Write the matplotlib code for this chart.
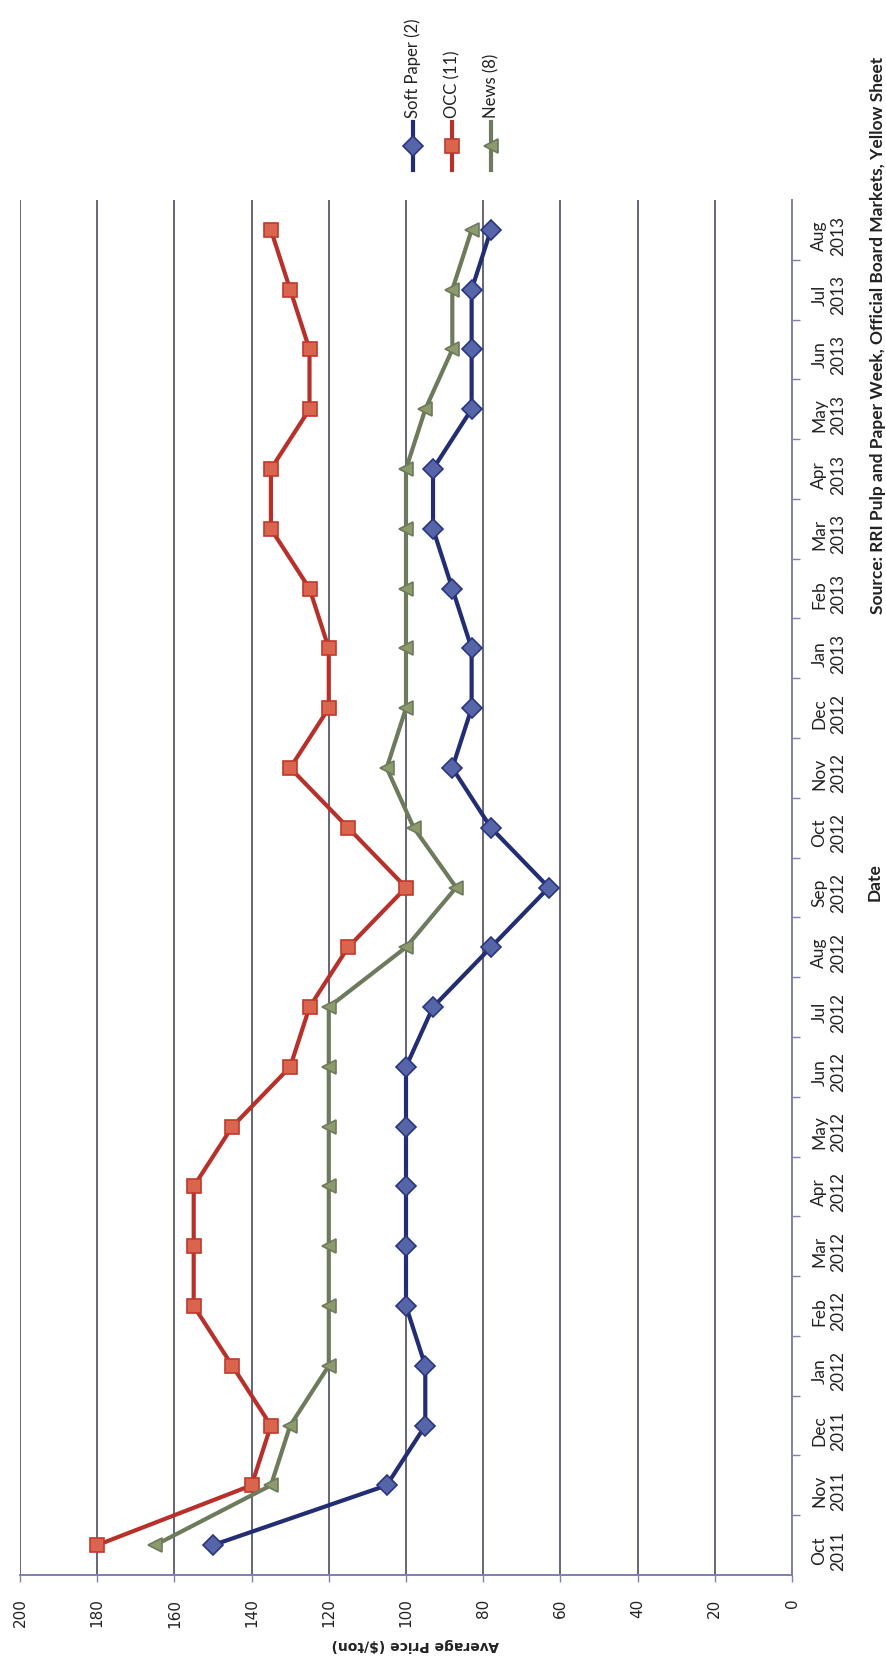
import numpy as np
import matplotlib
matplotlib.use("Agg")
import matplotlib.pyplot as plt
from matplotlib.lines import Line2D

# chart is drawn turned a quarter turn, as in the scanned page
months = ["Oct\n2011", "Nov\n2011", "Dec\n2011", "Jan\n2012", "Feb\n2012", "Mar\n2012",
          "Apr\n2012", "May\n2012", "Jun\n2012", "Jul\n2012", "Aug\n2012", "Sep\n2012",
          "Oct\n2012", "Nov\n2012", "Dec\n2012", "Jan\n2013", "Feb\n2013", "Mar\n2013",
          "Apr\n2013", "May\n2013", "Jun\n2013", "Jul\n2013", "Aug\n2013"]
soft_paper = [150, 105, 95, 95, 100, 100, 100, 100, 100, 93, 78, 63,
              78, 88, 83, 83, 88, 93, 93, 83, 83, 83, 78]
occ = [180, 140, 135, 145, 155, 155, 155, 145, 130, 125, 115, 100,
       115, 130, 120, 120, 125, 135, 135, 125, 125, 130, 135]
news = [165, 135, 130, 120, 120, 120, 120, 120, 120, 120, 100, 87,
        98, 105, 100, 100, 100, 100, 100, 95, 88, 88, 83]
price_ticks = [0, 20, 40, 60, 80, 100, 120, 140, 160, 180, 200]

series = [
    ("Soft Paper (2)", soft_paper, "#222d74", "D", "#5665a8", "#2a3580"),
    ("OCC (11)", occ, "#b8302a", "s", "#d9654f", "#c03a2c"),
    ("News (8)", news, "#6d7a5c", "<", "#8d9b6c", "#6d7a5c"),
]

W, H = 886, 1661
fig = plt.figure(figsize=(W / 100, H / 100), dpi=100)
left, right, top, bottom = 20, 792, 200, 1575
ax = fig.add_axes([left / W, 1 - bottom / H, (right - left) / W, (bottom - top) / H])

pos = np.arange(len(months))
for name, vals, lc, mk, mf, me in series:
    ax.plot(vals, pos, color=lc, lw=3, marker=mk, ms=10,
            mfc=mf, mec=me, mew=1.2, zorder=3)

ax.set_xlim(200, 0)
ax.set_ylim(-0.5, len(months) - 0.5)

ax.set_xticks(price_ticks)
ax.set_xticklabels([str(v) for v in price_ticks], rotation=90, fontsize=11,
                   family="DejaVu Sans", color="#222222")
ax.tick_params(axis="x", direction="out", length=5, width=1, color="#7f7fb0", pad=12)
ax.grid(axis="x", color="#3c3c55", lw=1.1, zorder=1)

ax.yaxis.tick_right()
ax.set_yticks(pos[:-1] + 0.5)
ax.set_yticklabels([])
ax.set_yticks(pos, minor=True)
ax.set_yticklabels(months, minor=True, rotation=90, fontsize=12.5, family="Lato",
                   color="#222222")
for lab in ax.get_yticklabels(minor=True):
    lab.set_multialignment("center")
ax.tick_params(axis="y", which="major", direction="out", length=6, width=1,
               color="#7f7fb0")
ax.tick_params(axis="y", which="minor", length=0, pad=14)

for s in ["top", "left"]:
    ax.spines[s].set_visible(False)
for s in ["right", "bottom"]:
    ax.spines[s].set_color("#7f7fb0")
    ax.spines[s].set_linewidth(1.4)

fig.text(415 / W, 1 - 1645 / H, "Average Price ($/ton)", rotation=180, ha="center",
         va="center", fontsize=10, fontweight="bold", family="DejaVu Sans", color="#222222")
fig.text(875 / W, 1 - 882 / H, "Date", rotation=90, ha="center", va="center",
         fontsize=12.5, fontweight="bold", family="Lato", color="#222222")
fig.text(878 / W, 1 - 335 / H,
         "Source: RRI Pulp and Paper Week, Official Board Markets, Yellow Sheet",
         rotation=90, ha="center", va="center", fontsize=12.5, fontweight="bold",
         family="Lato", color="#222222")

# legend, one upright column per series
for i, (name, vals, lc, mk, mf, me) in enumerate(series):
    x = (413 + 39 * i) / W
    y1, y2 = 1 - 170 / H, 1 - 122 / H
    fig.add_artist(Line2D([x, x, x], [y1, (y1 + y2) / 2, y2], transform=fig.transFigure,
                          color=lc, lw=3, marker=mk, ms=10, mfc=mf, mec=me,
                          mew=1.2, markevery=[1]))
    fig.text(x, y2 + 4 / H, name, rotation=90, ha="center", va="bottom",
             fontsize=12, family="Lato", color="#222222")

fig.savefig("out.png", dpi=100)
